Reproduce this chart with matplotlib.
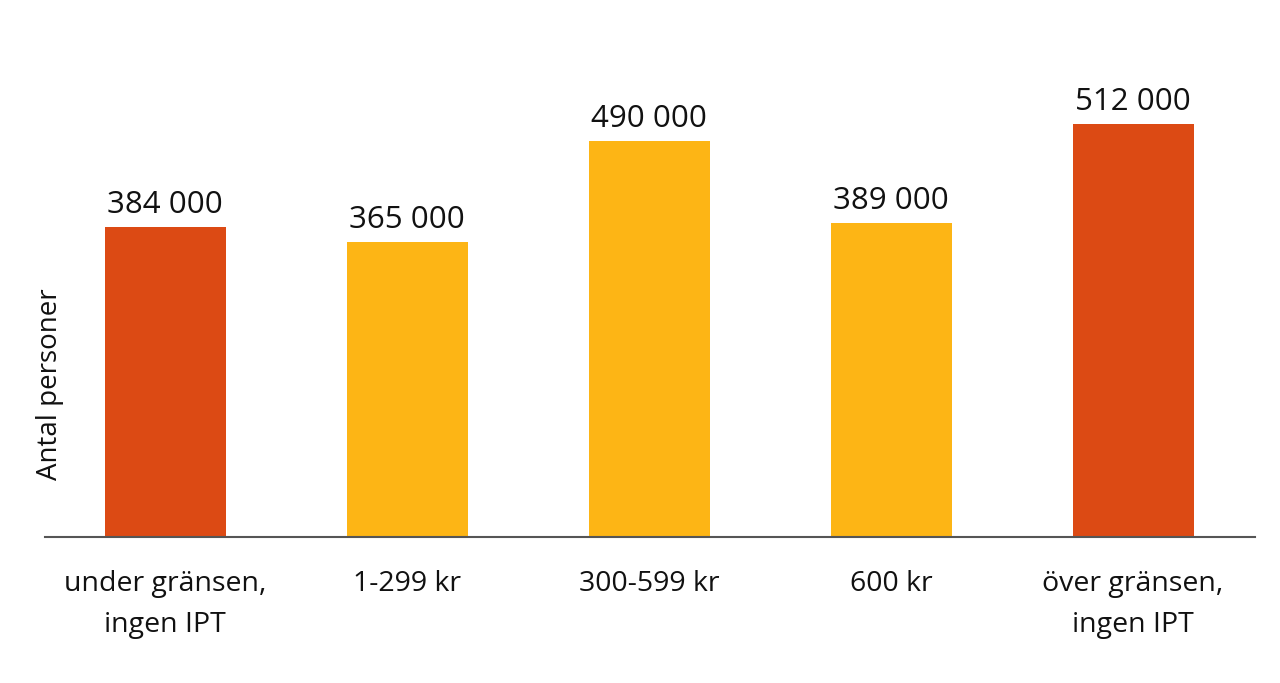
import matplotlib
matplotlib.use("Agg")
import matplotlib.pyplot as plt

categories = ["under gränsen,\ningen IPT", "1-299 kr", "300-599 kr", "600 kr", "över gränsen,\ningen IPT"]
values = [384000, 365000, 490000, 389000, 512000]
value_labels = ["384 000", "365 000", "490 000", "389 000", "512 000"]
colors = ["#DC4A14", "#FDB515", "#FDB515", "#FDB515", "#DC4A14"]

plt.rcParams['font.family'] = ['Open Sans', 'DejaVu Sans']

fig = plt.figure(figsize=(12.8, 6.83), dpi=100)
ax = fig.add_axes([45 / 1280, 146 / 683, 1210 / 1280, 497 / 683])

x = list(range(len(categories)))
ax.bar(x, values, width=0.5, color=colors)

for xi, v, lab in zip(x, values, value_labels):
    ax.annotate(lab, (xi, v), xytext=(0, 5), textcoords="offset points",
                ha="center", va="bottom", fontsize=22.5, color="#111111")

ax.set_xlim(-0.496, 4.504)
ax.set_ylim(0, 615600)
ax.set_xticks(x)
ax.set_xticklabels(categories, fontsize=20.5, color="#111111", linespacing=1.6)
ax.tick_params(axis="x", length=0, pad=24)
ax.set_yticks([])
for s in ["top", "right", "left"]:
    ax.spines[s].set_visible(False)
ax.spines["bottom"].set_color("#555555")
ax.spines["bottom"].set_linewidth(1.5)

fig.text(50 / 1280, 1 - 384 / 683, "Antal personer", rotation=90, ha="center", va="center",
         fontsize=20, color="#111111")

fig.savefig("out.png", dpi=100, facecolor="white")
